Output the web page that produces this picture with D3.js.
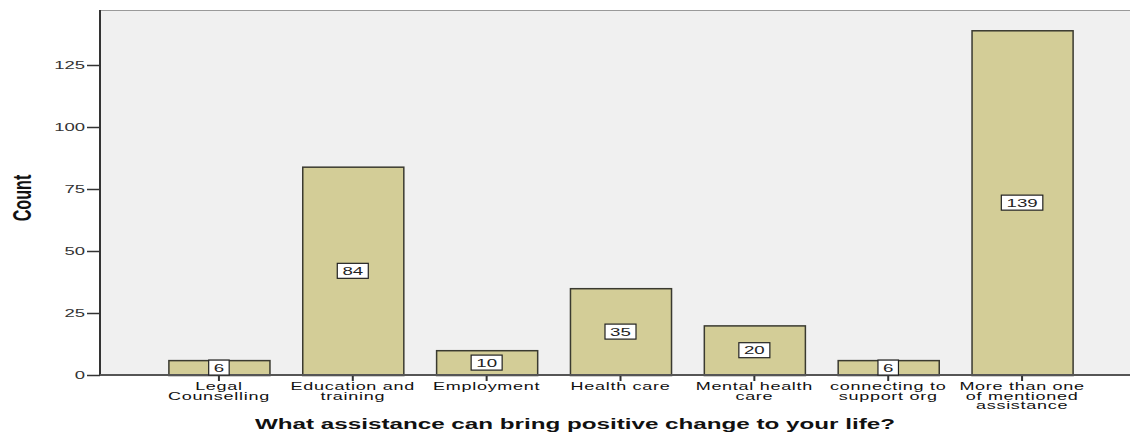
<!DOCTYPE html>
<html>
<head>
<meta charset="utf-8">
<script src="https://cdnjs.cloudflare.com/ajax/libs/d3/7.8.5/d3.min.js"></script>
<style>
  body { margin: 0; background: #fff; }
  text { font-family: "Liberation Sans", Arial, sans-serif; }
</style>
</head>
<body>
<div id="chart"></div>
<script>
// Categories (multi-line labels) and counts
var categories = [
    ["Legal", "Counselling"],
    ["Education and", "training"],
    ["Employment"],
    ["Health care"],
    ["Mental health", "care"],
    ["connecting to", "support org"],
    ["More than one", "of mentioned", "assistance"]
];
var counts = [6, 84, 10, 35, 20, 6, 139];
var yTicks = [0, 25, 50, 75, 100, 125];

var svgWidth = 1130;
var svgHeight = 435;

// Plot area
var plot = { left: 100, top: 10, right: 1130, bottom: 375 };

// SPSS export looks horizontally stretched, so text is widened
var stretch = 1.8;

var svg = d3.select("#chart")
    .append("svg")
    .attr("width", svgWidth)
    .attr("height", svgHeight);

// helper: text anchored at (x, y) and widened
function wideText(parent, x, y, sx, size) {
    return parent.append("text")
        .attr("transform", `translate(${x}, ${y}) scale(${sx}, 1)`)
        .attr("font-size", size);
}

var keys = categories.map((c, i) => i);

var x = d3.scaleBand()
    .domain(keys)
    .range([152, 1089])
    .paddingInner(0.245)
    .paddingOuter(0.1225);

var y = d3.scaleLinear()
    .domain([0, 125])
    .range([plot.bottom, 65]);

// Background
svg.append("rect")
    .attr("x", plot.left)
    .attr("y", plot.top)
    .attr("width", plot.right - plot.left)
    .attr("height", plot.bottom - plot.top)
    .attr("fill", "#f0f0f0");

// top border
svg.append("line")
    .attr("x1", plot.left).attr("x2", plot.right)
    .attr("y1", plot.top + 0.5).attr("y2", plot.top + 0.5)
    .attr("stroke", "#9a9a9a");

// Bars
svg.selectAll("rect.bar")
    .data(counts)
    .enter()
    .append("rect")
    .attr("class", "bar")
    .attr("x", (d, i) => x(i) + 0.5)
    .attr("y", d => y(d) + 0.5)
    .attr("width", x.bandwidth())
    .attr("height", d => y(0) - y(d))
    .attr("fill", "#d3cd97")
    .attr("stroke", "#3a3a30")
    .attr("stroke-width", 1.5);

// Y axis
var leftAxis = d3.axisLeft(y).tickValues(yTicks).tickSize(13).tickFormat("");
var gy = svg.append("g")
    .attr("transform", `translate(${plot.left}, 0)`)
    .call(leftAxis);
gy.select(".domain").remove();
gy.append("line")
    .attr("x1", 0).attr("x2", 0)
    .attr("y1", plot.top).attr("y2", plot.bottom)
    .attr("stroke", "#333").attr("stroke-width", 2);
gy.selectAll(".tick line").attr("stroke", "#333").attr("stroke-width", 1.5);

yTicks.forEach(v => {
    wideText(svg, plot.left - 15, y(v) + 3.5, 1.85, 10)
        .attr("text-anchor", "end")
        .attr("fill", "#333")
        .text(v);
});

// X axis
var gx = svg.append("g")
    .attr("transform", `translate(0, ${plot.bottom})`)
    .call(d3.axisBottom(x).tickSize(6).tickFormat(""));
gx.select(".domain").remove();
gx.append("line")
    .attr("x1", plot.left).attr("x2", plot.right)
    .attr("y1", 0).attr("y2", 0)
    .attr("stroke", "#555").attr("stroke-width", 2);
gx.selectAll(".tick line").attr("stroke", "#333").attr("stroke-width", 2);

// Category labels
categories.forEach((lines, i) => {
    var cx = x(i) + x.bandwidth() / 2;
    lines.forEach((l, j) => {
        wideText(svg, cx, plot.bottom + 15 + j * 9.7, stretch, 10)
            .attr("text-anchor", "middle")
            .attr("letter-spacing", "0.4px")
            .attr("fill", "#111")
            .text(l);
    });
});

// Value labels
counts.forEach((d, i) => {
    var cx = x(i) + x.bandwidth() / 2;
    var cy = y(d / 2);
    var w = String(d).length * 10.5 + 10;
    svg.append("rect")
        .attr("x", cx - w / 2)
        .attr("y", cy - 7.5)
        .attr("width", w)
        .attr("height", 15)
        .attr("fill", "#fff")
        .attr("stroke", "#222")
        .attr("stroke-width", 1.2);
    wideText(svg, cx, cy + 4, 1.7, 11)
        .attr("text-anchor", "middle")
        .attr("fill", "#222")
        .text(d);
});

// Axis titles
svg.append("text")
    .attr("transform", "translate(31, 198) rotate(-90) scale(0.62, 1)")
    .attr("text-anchor", "middle")
    .attr("font-size", 26)
    .attr("font-weight", "bold")
    .attr("fill", "#111")
    .text("Count");

svg.append("text")
    .attr("x", 575)
    .attr("y", 429)
    .attr("text-anchor", "middle")
    .attr("font-size", 14)
    .attr("font-weight", "bold")
    .attr("textLength", 640)
    .attr("lengthAdjust", "spacingAndGlyphs")
    .attr("fill", "#111")
    .text("What assistance can bring positive change to your life?");
</script>
</body>
</html>
